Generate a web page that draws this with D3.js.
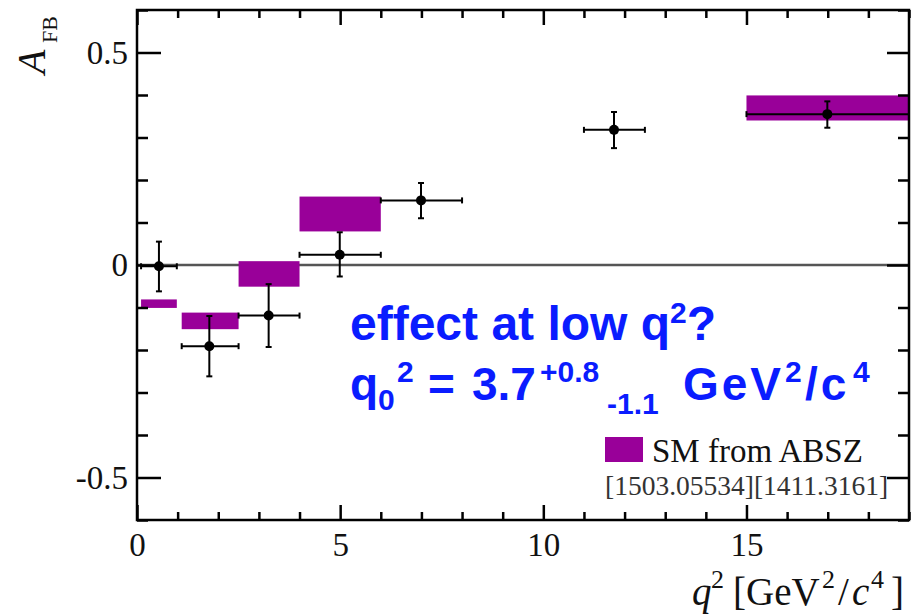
<!DOCTYPE html>
<html>
<head>
<meta charset="utf-8">
<script src="https://cdn.jsdelivr.net/npm/d3@7"></script>
<style>
  html, body { margin: 0; padding: 0; background: #fff; }
  svg { display: block; }
</style>
</head>
<body>
<svg id="chart" width="911" height="616"></svg>
<script>
// ---- data ----
const binLo   = [0.1, 1.1, 2.5, 4.0, 6.0, 11.0, 15.0];
const binHi   = [0.98, 2.5, 4.0, 6.0, 8.0, 12.5, 19.0];
const qMean   = [0.54, 1.78, 3.24, 4.99, 6.99, 11.74, 16.99];
const afb     = [-0.003, -0.191, -0.119, 0.024, 0.152, 0.318, 0.355];
const errUp   = [0.058, 0.071, 0.074, 0.053, 0.041, 0.042, 0.030];
const errDn   = [0.059, 0.071, 0.074, 0.051, 0.042, 0.043, 0.032];

const smLo  = [0.1, 1.1, 2.5, 4.0, 15.0];
const smHi  = [0.98, 2.5, 4.0, 6.0, 19.0];
const smMin = [-0.101, -0.151, -0.051, 0.079, 0.340];
const smMax = [-0.081, -0.112, 0.009, 0.161, 0.399];

const xMajor = [0, 5, 10, 15];
const xMajorLabels = ["0", "5", "10", "15"];
const yMajor = [-0.5, 0, 0.5];
const yMajorLabels = ["-0.5", "0", "0.5"];

// ---- layout ----
const svg = d3.select("#chart");
const L = 137, R = 909, T = 10, B = 520;
const x = d3.scaleLinear().domain([0, 19]).range([L, R]);
const y = d3.scaleLinear().domain([-0.6, 0.6]).range([B, T]);
const purple = "#990099";
const serif = "'Liberation Serif','Times New Roman',serif";
const sans = "'Liberation Sans',Arial,Helvetica,sans-serif";

svg.append("rect").attr("width", 911).attr("height", 616).attr("fill", "#fff");

// zero line
svg.append("line")
  .attr("x1", x(0)).attr("x2", x(19)).attr("y1", y(0)).attr("y2", y(0))
  .attr("stroke", "#555").attr("stroke-width", 2.5);

// SM boxes
svg.append("g").selectAll("rect").data(smLo).join("rect")
  .attr("x", (d, i) => x(smLo[i]))
  .attr("width", (d, i) => x(smHi[i]) - x(smLo[i]))
  .attr("y", (d, i) => y(smMax[i]))
  .attr("height", (d, i) => y(smMin[i]) - y(smMax[i]))
  .attr("fill", purple);

// data points
const pts = svg.append("g").attr("stroke", "#000").attr("stroke-width", 2);
const cap = 3;
afb.forEach((v, i) => {
  const cx = x(qMean[i]), cy = y(v);
  const x1 = x(binLo[i]), x2 = x(binHi[i]);
  const yt = y(v + errUp[i]), yb = y(v - errDn[i]);
  pts.append("line").attr("x1", x1).attr("x2", x2).attr("y1", cy).attr("y2", cy);
  pts.append("line").attr("x1", cx).attr("x2", cx).attr("y1", yt).attr("y2", yb);
  pts.append("line").attr("x1", x1).attr("x2", x1).attr("y1", cy - cap).attr("y2", cy + cap);
  pts.append("line").attr("x1", x2).attr("x2", x2).attr("y1", cy - cap).attr("y2", cy + cap);
  pts.append("line").attr("x1", cx - cap).attr("x2", cx + cap).attr("y1", yt).attr("y2", yt);
  pts.append("line").attr("x1", cx - cap).attr("x2", cx + cap).attr("y1", yb).attr("y2", yb);
  pts.append("circle").attr("cx", cx).attr("cy", cy).attr("r", 5).attr("fill", "#000").attr("stroke", "none");
});

// ---- axes ----
const xMinor = d3.range(0, 20, 1).filter(v => v % 5 !== 0);
const yMinor = d3.range(-6, 7, 1).map(v => v / 10).filter(v => Math.abs(v * 10) % 5 !== 0);

function styleAxis(g) {
  g.select(".domain").remove();
  g.selectAll(".tick line").attr("stroke", "#000").attr("stroke-width", 2.5);
}

// bottom
svg.append("g").attr("transform", `translate(0,${B})`)
  .call(d3.axisBottom(x).tickValues(xMinor).tickSizeInner(-8).tickSizeOuter(0).tickFormat(""))
  .call(styleAxis);
svg.append("g").attr("transform", `translate(0,${B})`)
  .call(d3.axisBottom(x).tickValues(xMajor).tickSizeInner(-15).tickSizeOuter(0).tickPadding(13)
        .tickFormat((d, i) => xMajorLabels[i]))
  .call(styleAxis)
  .call(g => g.selectAll("text").attr("font-family", serif).attr("font-size", 33).attr("fill", "#111"));
// top
svg.append("g").attr("transform", `translate(0,${T})`)
  .call(d3.axisTop(x).tickValues(xMinor).tickSizeInner(-8).tickSizeOuter(0).tickFormat(""))
  .call(styleAxis);
svg.append("g").attr("transform", `translate(0,${T})`)
  .call(d3.axisTop(x).tickValues(xMajor).tickSizeInner(-15).tickSizeOuter(0).tickFormat(""))
  .call(styleAxis);
// left
svg.append("g").attr("transform", `translate(${L},0)`)
  .call(d3.axisLeft(y).tickValues(yMinor).tickSizeInner(-11).tickSizeOuter(0).tickFormat(""))
  .call(styleAxis);
svg.append("g").attr("transform", `translate(${L},0)`)
  .call(d3.axisLeft(y).tickValues(yMajor).tickSizeInner(-24).tickSizeOuter(0).tickPadding(9)
        .tickFormat((d, i) => yMajorLabels[i]))
  .call(styleAxis)
  .call(g => g.selectAll("text").attr("font-family", serif).attr("font-size", 33).attr("fill", "#111"));
// right
svg.append("g").attr("transform", `translate(${R},0)`)
  .call(d3.axisRight(y).tickValues(yMinor).tickSizeInner(-11).tickSizeOuter(0).tickFormat(""))
  .call(styleAxis);
svg.append("g").attr("transform", `translate(${R},0)`)
  .call(d3.axisRight(y).tickValues(yMajor).tickSizeInner(-22).tickSizeOuter(0).tickFormat(""))
  .call(styleAxis);

// frame
svg.append("rect").attr("x", L).attr("y", T).attr("width", R - L).attr("height", B - T)
  .attr("fill", "none").attr("stroke", "#000").attr("stroke-width", 2.5);

// ---- axis titles ----
const yt = svg.append("text").attr("transform", "translate(45,74) rotate(-90)")
  .attr("font-family", serif).attr("fill", "#111");
yt.append("tspan").attr("x", 0).attr("y", 0).attr("font-size", 40).attr("font-style", "italic").text("A");
yt.append("tspan").attr("x", 31).attr("y", 12).attr("font-size", 22).text("FB");

const xt = svg.append("g").attr("font-family", serif).attr("fill", "#111");
const xtParts = [
  {t: "q", x: 692, y: 605, s: 39, i: true},
  {t: "2", x: 711, y: 588, s: 26},
  {t: "[GeV", x: 733, y: 605, s: 39},
  {t: "2", x: 822, y: 588, s: 26},
  {t: "/", x: 838, y: 605, s: 39},
  {t: "c", x: 852, y: 605, s: 39, i: true},
  {t: "4", x: 871, y: 588, s: 26},
  {t: "]", x: 891, y: 605, s: 39}
];
xtParts.forEach(p => xt.append("text").attr("x", p.x).attr("y", p.y).attr("font-size", p.s)
  .attr("font-style", p.i ? "italic" : "normal").text(p.t));

// ---- legend ----
svg.append("rect").attr("x", 605).attr("y", 437).attr("width", 38).attr("height", 25).attr("fill", purple);
svg.append("text").attr("x", 652).attr("y", 462).attr("font-family", serif).attr("font-size", 33)
  .attr("fill", "#111").text("SM from ABSZ");
svg.append("text").attr("x", 605).attr("y", 495).attr("font-family", serif).attr("font-size", 27.5)
  .attr("fill", "#333").text("[1503.05534][1411.3161]");

// ---- annotation ----
const blue = "#0a1cff";
const a1 = svg.append("text").attr("x", 350).attr("y", 340).attr("font-family", sans)
  .attr("font-weight", "bold").attr("font-size", 48).attr("fill", blue);
a1.append("tspan").text("effect at low q");
a1.append("tspan").attr("font-size", 30).attr("dy", -17).text("2");
a1.append("tspan").attr("dy", 17).text("?");

const a2 = svg.append("g").attr("font-family", sans).attr("font-weight", "bold").attr("fill", blue);
const a2Parts = [
  {t: "q", x: 350, y: 400, s: 46},
  {t: "0", x: 378, y: 410, s: 30},
  {t: "2", x: 397, y: 382, s: 30},
  {t: "=", x: 428, y: 400, s: 46},
  {t: "3.7", x: 472, y: 400, s: 46},
  {t: "+0.8", x: 540, y: 382, s: 30},
  {t: "-1.1", x: 607, y: 414, s: 30},
  {t: "GeV", x: 683, y: 400, s: 46, ls: 3},
  {t: "2", x: 785, y: 382, s: 30},
  {t: "/c", x: 805, y: 400, s: 46, ls: 3},
  {t: "4", x: 853, y: 382, s: 30}
];
a2Parts.forEach(p => a2.append("text").attr("x", p.x).attr("y", p.y).attr("font-size", p.s)
  .attr("letter-spacing", p.ls || 0).text(p.t));
</script>
</body>
</html>
